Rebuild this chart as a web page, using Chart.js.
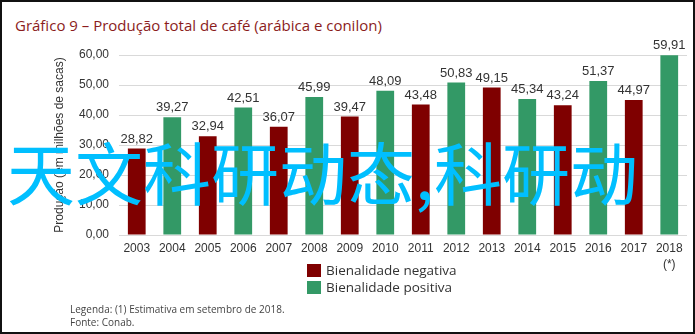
<!DOCTYPE html>
<html lang="pt">
<head>
<meta charset="UTF-8">
<title>Gráfico 9 – Produção total de café</title>
<script src="https://cdn.jsdelivr.net/npm/chart.js"></script>
<style>
  html, body { margin: 0; padding: 0; background: #fff; }
  #frame { position: relative; width: 691px; height: 330px; border: 2px solid #111; overflow: hidden; }
  #title { position: absolute; left: 13px; top: 13px; font: 15px "Open Sans", sans-serif; color: #8b1c1c; white-space: nowrap; }
  #chartBox { position: absolute; left: -2px; top: -2px; width: 695px; height: 272px; }
  .legend { position: absolute; left: 305px; font: 13.5px "Open Sans", sans-serif; color: #333; white-space: nowrap; }
  .legend span { display: inline-block; width: 14px; height: 13px; vertical-align: -2px; margin-right: 5px; }
  .note { position: absolute; left: 68px; font: 10px "Open Sans", sans-serif; color: #444; white-space: nowrap; }
  #mark { position: absolute; left: 5px; top: 135px; font: 68px/68px "Noto Sans CJK SC", sans-serif; color: #00bfff; white-space: nowrap; }
</style>
</head>
<body>
<div id="frame">
  <div id="title">Gráfico 9 – Produção total de café (arábica e conilon)</div>
  <div id="chartBox"><canvas id="chart"></canvas></div>
  <div class="legend" style="top:259px"><span style="background:#7f0000"></span>Bienalidade negativa</div>
  <div class="legend" style="top:276px"><span style="background:#339966"></span>Bienalidade positiva</div>
  <div class="note" style="top:300px">Legenda: (1) Estimativa em setembro de 2018.</div>
  <div class="note" style="top:313px">Fonte: Conab.</div>
  <div id="mark">天文科研动态,科研动</div>
</div>
<script>
  const years = ['2003', '2004', '2005', '2006', '2007', '2008', '2009', '2010',
                 '2011', '2012', '2013', '2014', '2015', '2016', '2017', ['2018', '(*)']];
  // negative biennial years (odd) and positive (even); null where the other series has the bar
  const negativa = [28.82, null, 32.94, null, 36.07, null, 39.47, null, 43.48, null, 49.15, null, 43.24, null, 44.97, null];
  const positiva = [null, 39.27, null, 42.51, null, 45.99, null, 48.09, null, 50.83, null, 45.34, null, 51.37, null, 59.91];

  const fmt = v => v.toFixed(2).replace('.', ',');

  const valueLabels = {
    id: 'valueLabels',
    afterDatasetsDraw(chart) {
      const ctx = chart.ctx;
      ctx.save();
      ctx.font = '13px "Liberation Sans", Arial, sans-serif';
      ctx.fillStyle = '#333';
      ctx.textAlign = 'center';
      ctx.textBaseline = 'bottom';
      chart.data.datasets.forEach((ds, i) => {
        chart.getDatasetMeta(i).data.forEach((bar, j) => {
          if (ds.data[j] == null) return;
          ctx.fillText(fmt(ds.data[j]), bar.x, bar.y - 3);
        });
      });
      ctx.restore();
    }
  };

  new Chart(document.getElementById('chart'), {
    type: 'bar',
    data: {
      labels: years,
      datasets: [
        { label: 'Bienalidade negativa', data: negativa, backgroundColor: '#7f0000' },
        { label: 'Bienalidade positiva', data: positiva, backgroundColor: '#339966' }
      ]
    },
    options: {
      responsive: true,
      maintainAspectRatio: false,
      animation: false,
      layout: { padding: { left: 52, right: 8, top: 55, bottom: 0 } },
      datasets: { bar: { grouped: false, barPercentage: 0.5, categoryPercentage: 1 } },
      plugins: { legend: { display: false }, tooltip: { enabled: false } },
      scales: {
        x: {
          grid: { display: false, drawTicks: false },
          border: { display: false },
          afterFit: s => { s.height = 37; },
          ticks: { color: '#333', padding: 6, maxRotation: 0, autoSkip: false,
                   font: { family: '"Liberation Sans", Arial, sans-serif', size: 12, lineHeight: 1.33 } }
        },
        y: {
          min: 0, max: 60,
          afterFit: s => { s.width = 67; },
          grid: { color: '#d9d9d9', drawTicks: false },
          border: { display: false },
          ticks: { stepSize: 5, color: '#333', padding: 10, callback: v => fmt(v),
                   font: { family: '"Liberation Sans", Arial, sans-serif', size: 12 } },
          title: { display: true, text: 'Produção (em milhões de sacas)', color: '#333', padding: 0,
                   font: { family: '"Liberation Sans", Arial, sans-serif', size: 12 } }
        }
      }
    },
    plugins: [valueLabels]
  });
</script>
</body>
</html>
